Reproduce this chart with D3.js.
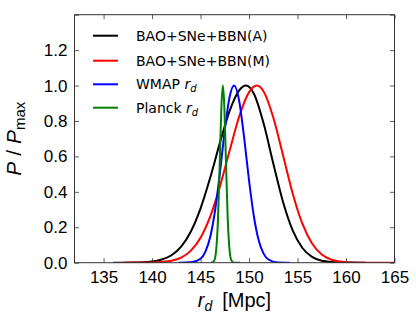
<!DOCTYPE html>
<html><head><meta charset="utf-8">
<script src="https://cdn.jsdelivr.net/npm/d3@7"></script>
<style>body{margin:0;background:#fff}svg{display:block}</style>
</head><body><svg id="c" width="416" height="320"></svg>
<script>
// ---- data ----
const xTicks = [135, 140, 145, 150, 155, 160, 165];
const yTicks = [0, 0.2, 0.4, 0.6, 0.8, 1.0, 1.2, 1.4];
const yTickLabels = ["0.0", "0.2", "0.4", "0.6", "0.8", "1.0", "1.2", ""];
const xDomain = [132, 165];
const yDomain = [0, 1.4];

const seriesNames = ["BAO+SNe+BBN(A)", "BAO+SNe+BBN(M)", "WMAP", "Planck"];
const seriesColors = ["#000000", "#ff0000", "#0000ff", "#008000"];

const blackX = [136, 138, 140, 141, 142, 143, 144, 145, 146, 147, 148, 149, 149.7, 150.5, 151.5, 152.5, 153.5, 154.5, 155.5, 156.5, 157.5, 159, 162];
const blackY = [0, 0.001, 0.007, 0.018, 0.042, 0.091, 0.176, 0.307, 0.481, 0.678, 0.857, 0.974, 1.0, 0.954, 0.787, 0.56, 0.344, 0.182, 0.083, 0.033, 0.011, 0.002, 0];

const redX = [137, 140, 141, 142, 143, 144, 145, 146, 147, 148, 149, 150, 150.8, 151.5, 152.5, 153.5, 154.5, 155.5, 156.5, 157.5, 158.5, 160, 162, 165];
const redY = [0, 0.001, 0.004, 0.011, 0.029, 0.068, 0.141, 0.261, 0.431, 0.633, 0.828, 0.963, 1.0, 0.967, 0.82, 0.607, 0.391, 0.22, 0.108, 0.046, 0.017, 0.003, 0, 0];

const blueX = [142.7, 144, 145, 145.5, 146, 146.5, 147, 147.5, 148, 148.45, 149, 149.5, 150, 150.5, 151, 151.5, 152, 153, 154.2];
const blueY = [0, 0.002, 0.022, 0.062, 0.146, 0.296, 0.51, 0.749, 0.937, 1.0, 0.908, 0.703, 0.464, 0.261, 0.125, 0.051, 0.018, 0.001, 0];

const greenX = [146.1, 146.4, 146.6, 146.8, 147.0, 147.15, 147.3, 147.45, 147.6, 147.8, 148.0, 148.2, 148.5, 149.1];
const greenY = [0, 0.011, 0.066, 0.249, 0.607, 0.882, 1.0, 0.882, 0.607, 0.249, 0.066, 0.011, 0, 0];

const seriesX = [blackX, redX, blueX, greenX];
const seriesY = [blackY, redY, blueY, greenY];

// ---- layout ----
const L = 74.5, R = 394.5, T = 14.7, B = 262.7;
const svg = d3.select("#c");
const x = d3.scaleLinear().domain(xDomain).range([L, R]);
const y = d3.scaleLinear().domain(yDomain).range([B, T]);

svg.append("defs").append("clipPath").attr("id", "clip")
  .append("rect").attr("x", L).attr("y", T).attr("width", R - L).attr("height", B - T);

const line = d3.line().x(d => x(d[0])).y(d => y(d[1])).curve(d3.curveMonotoneX);
const plot = svg.append("g").attr("clip-path", "url(#clip)");
seriesX.forEach((xs, i) => {
  const pts = xs.map((v, j) => [v, seriesY[i][j]]);
  plot.append("path").datum(pts).attr("d", line)
    .attr("fill", "none").attr("stroke", seriesColors[i]).attr("stroke-width", 2)
    .attr("stroke-linejoin", "round");
});

// ---- axes (ticks inward on all sides) ----
const tickFont = "'Liberation Sans', Arial, sans-serif";
const tl = 4.5;
const xb = svg.append("g").attr("transform", `translate(0,${B})`)
  .call(d3.axisBottom(x).tickValues(xTicks).tickSizeInner(-tl).tickSizeOuter(0).tickPadding(8).tickFormat(d3.format("d")));
const xt = svg.append("g").attr("transform", `translate(0,${T})`)
  .call(d3.axisTop(x).tickValues(xTicks).tickSizeInner(-tl).tickSizeOuter(0).tickFormat(""));
const yl = svg.append("g").attr("transform", `translate(${L},0)`)
  .call(d3.axisLeft(y).tickValues(yTicks).tickSizeInner(-tl).tickSizeOuter(0).tickPadding(7).tickFormat((d, i) => yTickLabels[i]));
const yr = svg.append("g").attr("transform", `translate(${R},0)`)
  .call(d3.axisRight(y).tickValues(yTicks).tickSizeInner(-tl).tickSizeOuter(0).tickFormat(""));
[xb, xt, yl, yr].forEach(g => {
  g.select(".domain").remove();
  g.selectAll("line").attr("stroke", "#333").attr("stroke-width", 0.8);
  g.selectAll("text").attr("font-family", tickFont).attr("font-size", 17).attr("fill", "#000");
});
xb.selectAll("text").attr("dy", "0.71em");
svg.append("rect").attr("x", L).attr("y", T).attr("width", R - L).attr("height", B - T)
  .attr("fill", "none").attr("stroke", "#333").attr("stroke-width", 1);

// ---- axis labels ----
const xl = svg.append("text").attr("x", (L + R) / 2).attr("y", 307).attr("text-anchor", "middle")
  .attr("font-family", tickFont).attr("font-size", 20).attr("fill", "#000");
xl.append("tspan").attr("font-style", "italic").text("r");
xl.append("tspan").attr("font-style", "italic").attr("font-size", 14).attr("dy", 4).text("d");
xl.append("tspan").attr("dy", -4).text("\u2002[Mpc]");

const ylab = svg.append("text").attr("transform", `translate(21,${(T + B) / 2}) rotate(-90)`)
  .attr("text-anchor", "middle").attr("font-family", tickFont).attr("font-size", 21).attr("fill", "#000");
ylab.append("tspan").attr("font-style", "italic").text("P");
ylab.append("tspan").text(" / ");
ylab.append("tspan").attr("font-style", "italic").text("P");
ylab.append("tspan").attr("font-size", 15).attr("dy", 4).text("max");

// ---- legend ----
const legY = [35.7, 60.7, 84.3, 107.7];
const leg = svg.append("g");
seriesNames.forEach((n, i) => {
  leg.append("line").attr("x1", 93).attr("x2", 118).attr("y1", legY[i]).attr("y2", legY[i])
    .attr("stroke", seriesColors[i]).attr("stroke-width", 2);
  const t = leg.append("text").attr("x", 136).attr("y", legY[i] + 5)
    .attr("font-family", "'DejaVu Sans', sans-serif").attr("font-size", 14).attr("fill", "#000");
  t.append("tspan").text(n);
  if (i >= 2) {
    t.append("tspan").text(" ");
    t.append("tspan").attr("font-style", "italic").text("r");
    t.append("tspan").attr("font-style", "italic").attr("font-size", 10).attr("dy", 3).text("d");
  }
});
</script></body></html>
